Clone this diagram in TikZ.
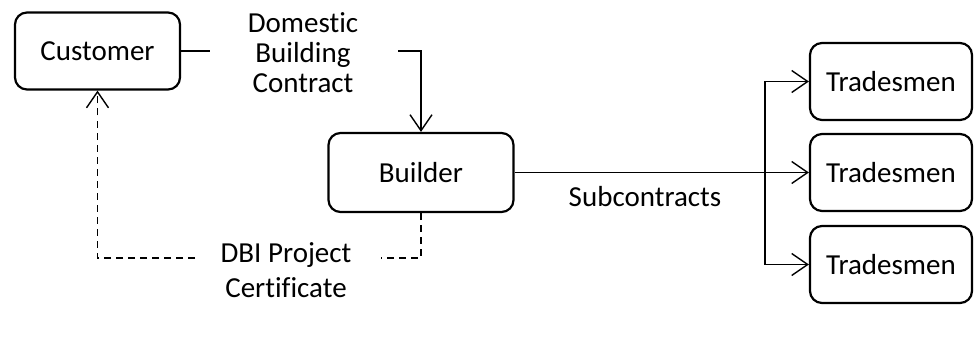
\documentclass[tikz,border=0pt]{standalone}
\usepackage{fontspec}
\setmainfont[Ligatures=NoCommon]{Carlito}
\usetikzlibrary{arrows.meta}
\begin{document}
\begin{tikzpicture}[x=1pt,y=-1pt,
  box/.style={draw, line width=2.2pt, rounded corners=12pt, align=center, inner sep=0pt},
  conn/.style={line width=1.4pt},
  tip/.style={-{Straight Barb[length=16pt,width=22pt,line width=1.4pt]}},
  dashline/.style={conn, dash pattern=on 7pt off 5pt},
  lbl/.style={align=center, inner sep=0pt},
  every node/.style={font=\fontsize{29}{34}\selectfont}]
  \useasboundingbox (0,0) rectangle (976,350);

  % boxes
  \node[box, minimum width=165pt, minimum height=77pt] (cust) at (97.5,51) {Customer};
  \node[box, minimum width=185pt, minimum height=79pt] (build) at (421,172.5) {Builder};
  \node[box, minimum width=162pt, minimum height=77pt] (t1) at (891,81.5) {Tradesmen};
  \node[box, minimum width=162pt, minimum height=77pt] (t2) at (891,172.5) {Tradesmen};
  \node[box, minimum width=162pt, minimum height=77pt] (t3) at (891,264.5) {Tradesmen};

  % labels
  \node[lbl, font=\fontsize{29}{30}\selectfont] (dbc) at (303,53) {Domestic\\Building\\Contract};
  \node[lbl] (sub) at (645,197) {Subcontracts};
  \node[lbl, font=\fontsize{29}{35}\selectfont] (dbi) at (286,270) {DBI Project\\Certificate};

  % contract from customer to builder
  \coordinate (c1) at (210,51);
  \coordinate (c2) at (398,51);
  \draw[conn] (cust.east) -- (c1);
  \draw[conn, tip] (c2) -| (build.north);

  % subcontracts to tradesmen
  \coordinate (fork) at (765,172.5);
  \draw[conn, tip] (build.east) -- (t2.west);
  \draw[conn, tip] (fork) |- (t1.west);
  \draw[conn, tip] (fork) |- (t3.west);

  % certificate back to customer
  \coordinate (d1) at (381,258);
  \coordinate (d2) at (195,258);
  \draw[dashline] (build.south) |- (d1);
  \draw[dashline, tip] (d2) -| (cust.south);
\end{tikzpicture}
\end{document}
